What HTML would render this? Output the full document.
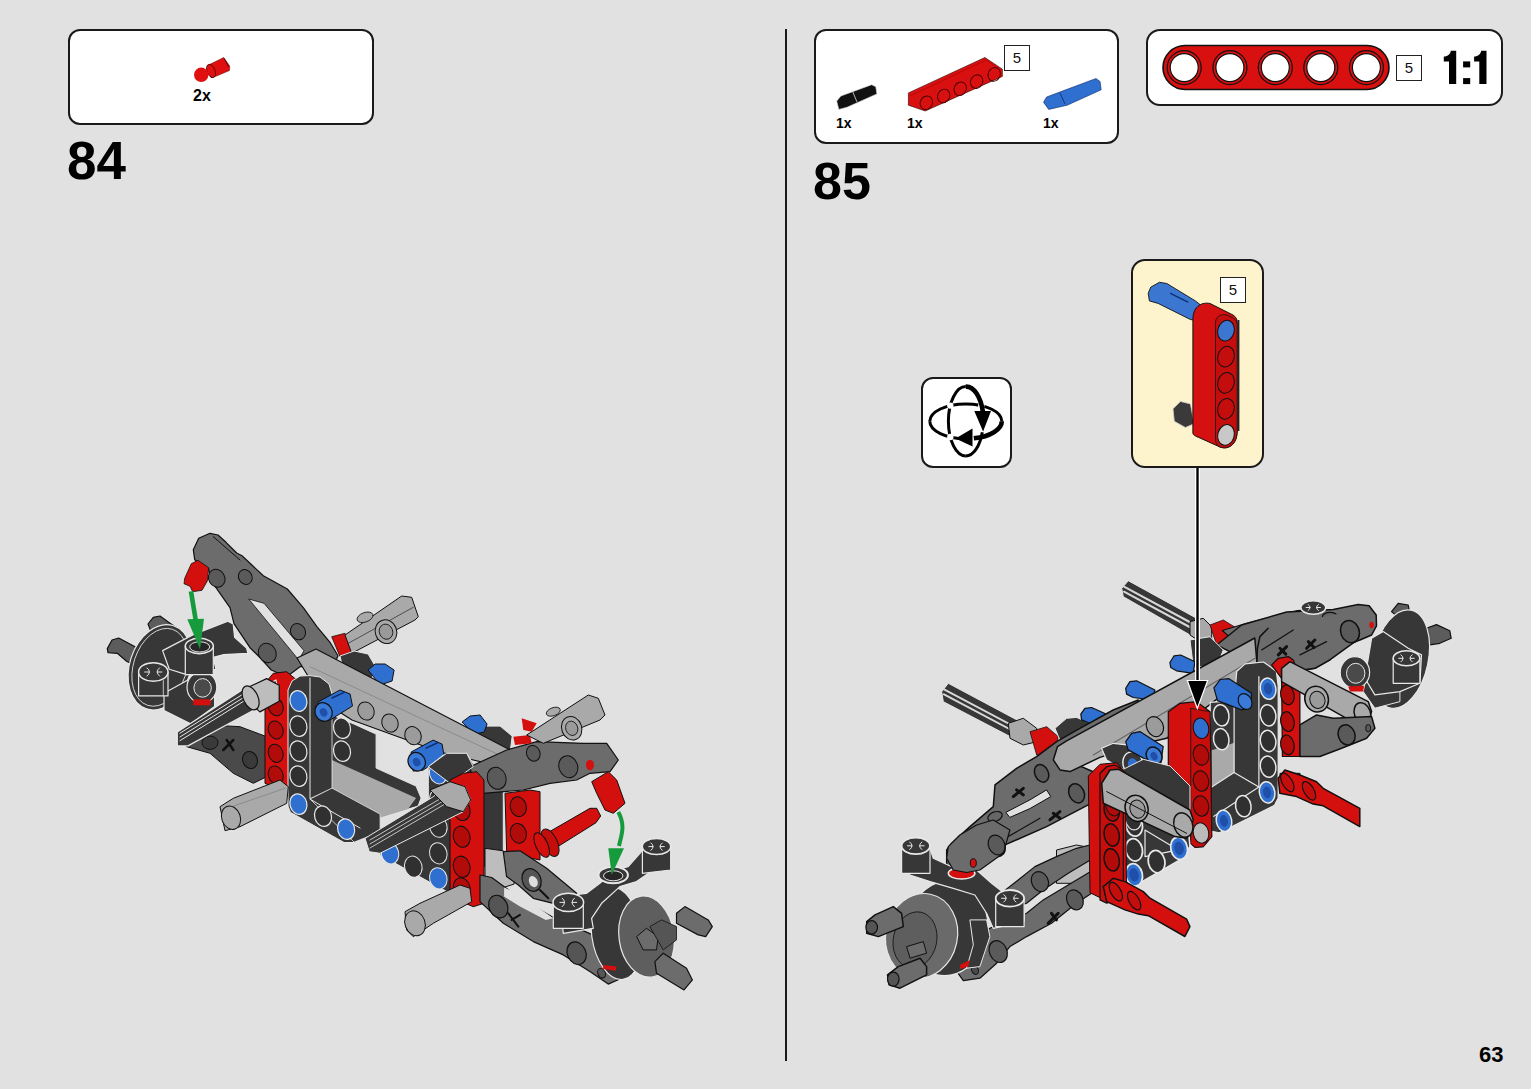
<!DOCTYPE html>
<html><head><meta charset="utf-8">
<style>
html,body{margin:0;padding:0;}
body{width:1531px;height:1089px;background:#e1e1e1;position:relative;overflow:hidden;font-family:"Liberation Sans",sans-serif;}
.box{position:absolute;background:#fff;border:2px solid #1a1a1a;border-radius:12px;box-sizing:border-box;}
.t{position:absolute;font-weight:bold;color:#000;line-height:1;white-space:nowrap;}
.nb{position:absolute;width:26px;height:26px;border:1.5px solid #222;box-sizing:border-box;background:#fff;font-size:15px;text-align:center;line-height:23px;color:#111;}
svg{position:absolute;left:0;top:0;}
</style></head><body>
<div class="box" style="left:68px;top:29px;width:306px;height:96px;"></div>
<div class="box" style="left:814px;top:29px;width:305px;height:115px;"></div>
<div class="box" style="left:1146px;top:29px;width:357px;height:77px;border-radius:14px;"></div>
<div class="box" style="left:921px;top:377px;width:91px;height:91px;border-radius:12px;"></div>
<div class="box" style="left:1131px;top:259px;width:133px;height:209px;border-radius:14px;background:#fdf3cd;"></div>
<div style="position:absolute;left:785px;top:29px;width:2px;height:1032px;background:#1a1a1a;"></div>
<div class="t" style="left:67px;top:134px;font-size:53px;">84</div>
<div class="t" style="left:813px;top:155px;font-size:52px;">85</div>
<div class="t" style="left:1479px;top:1044px;font-size:22px;">63</div>
<div class="t" style="left:193px;top:88px;font-size:16px;">2x</div>
<div class="t" style="left:836px;top:116px;font-size:14px;">1x</div>
<div class="t" style="left:907px;top:116px;font-size:14px;">1x</div>
<div class="t" style="left:1043px;top:116px;font-size:14px;">1x</div>
<div class="nb" style="left:1396px;top:55px;">5</div>
<div class="nb" style="left:1004px;top:45px;">5</div>
<div class="nb" style="left:1220px;top:277px;">5</div>

<svg width="1531" height="1089" viewBox="0 0 1531 1089">
<polygon points="107.3,648.6 112.0,640.0 118.7,638.0 136.0,647.3 138.6,662.6 132.0,664.0 126.6,661.3 117.3,653.3 108.0,652.6" fill="#5c5c5c" stroke="#111" stroke-width="1.2" stroke-linejoin="round"/>
<polygon points="148.0,624.0 153.3,617.3 160.0,616.0 169.3,622.7 174.6,626.6 161.3,632.0 150.6,630.6" fill="#5c5c5c" stroke="#111" stroke-width="1.2" stroke-linejoin="round"/>
<ellipse cx="160.0" cy="667.3" rx="30.4" ry="43.7" fill="#373737" stroke="#e8e8e8" stroke-width="1.2" transform="rotate(18 160.0 667.3)"/>
<ellipse cx="160.0" cy="667.3" rx="26.6" ry="40.0" fill="none" stroke="#e8e8e8" stroke-width="0.8" transform="rotate(18 160.0 667.3)"/>
<polygon points="162.6,650.6 193.3,634.6 227.9,621.3 233.2,624.0 234.6,637.3 246.6,648.0 247.9,653.3 223.9,654.6 213.3,657.3 215.9,669.3 186.6,674.6 169.3,669.3" fill="#373737" stroke="#e8e8e8" stroke-width="1.2" stroke-linejoin="round"/>
<polygon points="164.0,693.3 187.9,679.9 214.6,693.3 214.6,706.6 190.6,723.9 164.0,710.6" fill="#373737" stroke="#e8e8e8" stroke-width="1.2" stroke-linejoin="round"/>
<ellipse cx="201.9" cy="687.3" rx="14.9" ry="15.7" fill="#373737" stroke="#e8e8e8" stroke-width="1.2"/>
<ellipse cx="202.6" cy="687.9" rx="8.7" ry="9.3" fill="#4a4a4a" stroke="#e8e8e8" stroke-width="1"/>
<polygon points="193.3,699.3 210.6,699.3 210.6,705.3 193.3,705.3" fill="#d3100e"/>
<polygon points="185.3,646.0 213.3,646.0 213.3,674.6 185.3,674.6" fill="#373737" stroke="#e8e8e8" stroke-width="1.2" stroke-linejoin="round"/>
<ellipse cx="199.3" cy="646.0" rx="14.0" ry="7.7" fill="#373737" stroke="#e8e8e8" stroke-width="1.5"/>
<ellipse cx="199.7" cy="646.9" rx="10.0" ry="5.1" fill="#262626" stroke="#e8e8e8" stroke-width="1"/>
<polygon points="138.6,672.0 168.0,672.0 168.0,695.9 138.6,695.9" fill="#373737" stroke="#e8e8e8" stroke-width="1.2" stroke-linejoin="round"/>
<ellipse cx="153.3" cy="672.0" rx="14.7" ry="9.3" fill="#373737" stroke="#e8e8e8" stroke-width="1.5"/>
<path d="M146.7,667.6 Q152.1,672.0 146.7,676.3 M159.9,667.6 Q154.5,672.0 159.9,676.3 M144.3,672.0 L149.7,672.0 M156.9,672.0 L162.3,672.0" fill="none" stroke="#e8e8e8" stroke-width="1.0"/>
<polyline points="163.3,680.6 163.3,695.3" fill="none" stroke="#e8e8e8" stroke-width="0.8" stroke-linecap="round" stroke-linejoin="round"/>
<polygon points="180.0,733.3 210.0,725.0 240.0,726.7 266.7,736.7 273.3,753.3 266.7,776.7 253.3,783.3 233.3,773.3 210.0,753.3 186.7,746.7" fill="#4a4a4a" stroke="#111" stroke-width="1" stroke-linejoin="round"/>
<ellipse cx="210.0" cy="742.7" rx="8.0" ry="6.7" fill="#3a3a3a" stroke="#111" stroke-width="1"/>
<ellipse cx="250.0" cy="760.0" rx="7.3" ry="8.7" fill="#3a3a3a" stroke="#111" stroke-width="1" transform="rotate(-20 250.0 760.0)"/>
<polyline points="223.3,750.0 233.3,740.0" fill="none" stroke="#111" stroke-width="2.5" stroke-linecap="round" stroke-linejoin="round"/>
<polyline points="226.7,740.0 233.3,750.0" fill="none" stroke="#111" stroke-width="2.5" stroke-linecap="round" stroke-linejoin="round"/>
<polygon points="193.3,549.7 198.7,538.3 210.0,533.3 218.0,535.0 226.0,542.3 236.7,553.0 242.0,555.7 263.3,575.7 287.3,589.0 303.3,607.7 316.7,626.3 330.0,642.3 338.0,655.7 333.3,666.7 300.0,666.7 286.7,676.7 271.3,670.0 260.7,658.3 250.0,647.7 239.3,631.7 234.0,623.7 230.0,607.7 220.7,594.3 211.3,581.0 208.7,569.0 194.7,559.7" fill="#6c6c6c" stroke="#111" stroke-width="1.2" stroke-linejoin="round"/>
<polygon points="248.7,599.0 264.0,603.3 304.0,650.7 298.7,660.0 293.3,653.3" fill="#e1e1e1" stroke="#111" stroke-width="0.8" stroke-linejoin="round"/>
<ellipse cx="216.7" cy="578.3" rx="8.0" ry="9.2" fill="#5a5a5a" stroke="#111" stroke-width="1" transform="rotate(-30 216.7 578.3)"/>
<ellipse cx="245.3" cy="577.0" rx="6.7" ry="7.7" fill="#5a5a5a" stroke="#111" stroke-width="1" transform="rotate(-30 245.3 577.0)"/>
<ellipse cx="267.3" cy="653.0" rx="8.7" ry="10.0" fill="#5a5a5a" stroke="#111" stroke-width="1" transform="rotate(-30 267.3 653.0)"/>
<ellipse cx="298.0" cy="631.7" rx="7.3" ry="8.4" fill="#5a5a5a" stroke="#111" stroke-width="1" transform="rotate(-30 298.0 631.7)"/>
<polyline points="213.3,536.7 240.0,560.0" fill="none" stroke="#111" stroke-width="1" stroke-linecap="round" stroke-linejoin="round"/>
<polygon points="191.3,563.7 198.0,560.3 208.7,567.7 207.3,581.0 202.0,590.3 192.7,591.7 190.0,586.3 184.0,583.7 184.7,578.3" fill="#d3100e" stroke="#111" stroke-width="0.8" stroke-linejoin="round"/>
<polygon points="188.7,591.7 193.3,591.0 198.3,621.7 193.7,622.3" fill="#159a3c"/>
<polygon points="187.3,619.3 204.0,618.7 200.0,649.3" fill="#159a3c"/>
<polygon points="331.7,636.7 345.0,633.3 351.7,651.7 340.0,656.7" fill="#d3100e" stroke="#111" stroke-width="0.8" stroke-linejoin="round"/>
<polygon points="345.0,635.0 401.7,596.0 411.7,597.3 418.3,616.7 415.0,620.0 351.7,653.3" fill="#a9a9a9" stroke="#111" stroke-width="1" stroke-linejoin="round"/>
<polyline points="348.3,643.3 413.3,607.3" fill="none" stroke="#111" stroke-width="0.6" stroke-linecap="round" stroke-linejoin="round"/>
<ellipse cx="386.0" cy="631.7" rx="10.7" ry="12.0" fill="#a9a9a9" stroke="#111" stroke-width="1" transform="rotate(-20 386.0 631.7)"/>
<ellipse cx="386.0" cy="631.7" rx="6.7" ry="7.7" fill="#9a9a9a" stroke="#111" stroke-width="0.8" transform="rotate(-20 386.0 631.7)"/>
<ellipse cx="365.0" cy="617.3" rx="8.3" ry="4.7" fill="#a9a9a9" stroke="#111" stroke-width="0.8" transform="rotate(-20 365.0 617.3)"/>
<polygon points="340.0,656.0 354.1,651.0 368.1,654.0 375.1,666.0 372.1,678.0 354.1,682.0 344.1,674.0" fill="#373737" stroke="#e8e8e8" stroke-width="1" stroke-linejoin="round"/>
<polygon points="368.1,670.0 375.1,664.0 385.1,664.0 394.1,670.0 392.1,681.0 380.1,685.0" fill="#2f6fd0" stroke="#111" stroke-width="1" stroke-linejoin="round"/>
<polygon points="472.1,734.1 486.1,726.1 500.1,726.1 512.2,736.1 510.2,752.1 490.1,756.1" fill="#373737" stroke="#e8e8e8" stroke-width="1" stroke-linejoin="round"/>
<polygon points="462.1,722.0 470.1,716.0 480.1,715.0 487.1,724.1 484.1,732.1 474.1,734.1" fill="#2f6fd0" stroke="#111" stroke-width="1" stroke-linejoin="round"/>
<polygon points="297.0,658.0 316.0,649.0 516.7,753.3 523.3,763.3 508.0,768.3 440.0,752.0 352.0,720.0 330.0,706.0 308.0,676.0" fill="#a9a9a9" stroke="#111" stroke-width="1.2" stroke-linejoin="round"/>
<polyline points="310.0,666.7 510.0,760.0" fill="none" stroke="#777" stroke-width="0.6" stroke-linecap="round" stroke-linejoin="round"/>
<ellipse cx="366.0" cy="711.0" rx="8.0" ry="9.3" fill="#9b9b9b" stroke="#111" stroke-width="1" transform="rotate(-25 366.0 711.0)"/>
<ellipse cx="390.0" cy="723.0" rx="8.0" ry="9.3" fill="#9b9b9b" stroke="#111" stroke-width="1" transform="rotate(-25 390.0 723.0)"/>
<ellipse cx="413.0" cy="735.7" rx="8.0" ry="9.3" fill="#9b9b9b" stroke="#111" stroke-width="1" transform="rotate(-25 413.0 735.7)"/>
<polygon points="265.0,683.3 273.3,673.3 286.7,671.7 296.7,680.0 296.7,786.7 281.7,790.7 265.0,783.3" fill="#d3100e" stroke="#111" stroke-width="1" stroke-linejoin="round"/>
<ellipse cx="275.7" cy="706.7" rx="7.3" ry="9.3" fill="#b20c0a" stroke="#111" stroke-width="1" transform="rotate(-20 275.7 706.7)"/>
<ellipse cx="275.7" cy="730.0" rx="7.3" ry="9.3" fill="#b20c0a" stroke="#111" stroke-width="1" transform="rotate(-20 275.7 730.0)"/>
<ellipse cx="275.7" cy="753.3" rx="7.3" ry="9.3" fill="#b20c0a" stroke="#111" stroke-width="1" transform="rotate(-20 275.7 753.3)"/>
<ellipse cx="275.7" cy="775.0" rx="7.3" ry="9.3" fill="#b20c0a" stroke="#111" stroke-width="1" transform="rotate(-20 275.7 775.0)"/>
<polygon points="177.3,731.9 245.2,687.9 257.2,682.6 266.6,685.3 275.9,679.9 278.5,693.3 262.6,705.3 187.9,745.9 177.3,745.9" fill="#373737" stroke="#e8e8e8" stroke-width="1.2" stroke-linejoin="round"/>
<polyline points="179.9,733.2 246.6,691.9" fill="none" stroke="#e8e8e8" stroke-width="1" stroke-linecap="round" stroke-linejoin="round"/>
<polyline points="179.9,737.0 246.6,695.7" fill="none" stroke="#e8e8e8" stroke-width="1" stroke-linecap="round" stroke-linejoin="round"/>
<polyline points="179.9,740.7 246.6,699.4" fill="none" stroke="#e8e8e8" stroke-width="1" stroke-linecap="round" stroke-linejoin="round"/>
<polygon points="243.9,689.3 266.6,678.6 279.2,685.3 279.2,701.3 259.9,711.9 245.2,698.6" fill="#bdbdbd" stroke="#111" stroke-width="1.2" stroke-linejoin="round"/>
<ellipse cx="250.6" cy="697.9" rx="7.3" ry="12.7" fill="#bdbdbd" stroke="#111" stroke-width="1.2" transform="rotate(-25 250.6 697.9)"/>
<polygon points="288.0,690.0 292.0,681.0 300.0,676.0 310.0,675.6 320.0,677.0 329.0,684.0 332.0,694.0 332.0,715.0 354.1,724.1 376.1,734.1 376.1,768.1 416.1,786.1 421.1,798.1 418.1,806.1 408.1,809.1 372.1,820.1 364.1,838.1 354.1,842.5 344.1,842.5 290.4,812.3 288.0,806.1" fill="#373737" stroke="#e8e8e8" stroke-width="1" stroke-linejoin="round"/>
<polygon points="332.0,760.1 354.1,770.1 416.1,798.1 408.1,809.1 372.1,820.1 354.1,808.1 310.0,798.1 332.0,788.1" fill="#a9a9a9"/>
<polygon points="310.0,799.1 332.0,788.1 354.1,800.1 380.1,814.1 380.1,832.1 354.1,842.1" fill="#373737" stroke="#e8e8e8" stroke-width="0.8" stroke-linejoin="round"/>
<polyline points="310.0,678.0 310.0,799.1 360.1,828.1" fill="none" stroke="#e8e8e8" stroke-width="1" stroke-linecap="round" stroke-linejoin="round"/>
<polyline points="332.0,715.0 332.0,788.1" fill="none" stroke="#e8e8e8" stroke-width="0.8" stroke-linecap="round" stroke-linejoin="round"/>
<ellipse cx="298.4" cy="701.0" rx="8.4" ry="10.4" fill="#2f6fd0" stroke="#e8e8e8" stroke-width="1.2" transform="rotate(-15 298.4 701.0)"/>
<ellipse cx="298.4" cy="726.1" rx="8.4" ry="10.4" fill="#303030" stroke="#e8e8e8" stroke-width="1.2" transform="rotate(-15 298.4 726.1)"/>
<ellipse cx="298.4" cy="751.1" rx="8.4" ry="10.4" fill="#303030" stroke="#e8e8e8" stroke-width="1.2" transform="rotate(-15 298.4 751.1)"/>
<ellipse cx="298.4" cy="776.1" rx="8.4" ry="10.4" fill="#303030" stroke="#e8e8e8" stroke-width="1.2" transform="rotate(-15 298.4 776.1)"/>
<ellipse cx="298.4" cy="804.1" rx="8.4" ry="10.4" fill="#2f6fd0" stroke="#e8e8e8" stroke-width="1.2" transform="rotate(-15 298.4 804.1)"/>
<ellipse cx="323.0" cy="816.1" rx="8.4" ry="10.4" fill="#303030" stroke="#e8e8e8" stroke-width="1.2" transform="rotate(-15 323.0 816.1)"/>
<ellipse cx="346.1" cy="829.1" rx="8.4" ry="10.4" fill="#2f6fd0" stroke="#e8e8e8" stroke-width="1.2" transform="rotate(-15 346.1 829.1)"/>
<ellipse cx="342.0" cy="728.1" rx="8.4" ry="10.4" fill="#303030" stroke="#e8e8e8" stroke-width="1.2" transform="rotate(-15 342.0 728.1)"/>
<ellipse cx="342.0" cy="751.1" rx="8.4" ry="10.4" fill="#303030" stroke="#e8e8e8" stroke-width="1.2" transform="rotate(-15 342.0 751.1)"/>
<polygon points="220.0,806.7 233.3,798.3 280.0,780.0 288.3,786.7 286.7,803.3 240.0,826.7 225.0,830.7" fill="#a9a9a9" stroke="#111" stroke-width="1" stroke-linejoin="round"/>
<polyline points="231.7,806.7 285.0,788.3" fill="none" stroke="#777" stroke-width="0.6" stroke-linecap="round" stroke-linejoin="round"/>
<ellipse cx="231.0" cy="817.7" rx="9.3" ry="12.0" fill="#a9a9a9" stroke="#111" stroke-width="1" transform="rotate(-20 231.0 817.7)"/>
<polygon points="318.0,702.0 340.0,690.0 350.1,694.0 352.5,706.0 330.0,720.0 320.0,720.0" fill="#2f6fd0" stroke="#111" stroke-width="1" stroke-linejoin="round"/>
<ellipse cx="323.6" cy="712.0" rx="8.4" ry="9.6" fill="#3a7ad8" stroke="#111" stroke-width="1.2" transform="rotate(-30 323.6 712.0)"/>
<ellipse cx="323.6" cy="712.4" rx="3.6" ry="4.4" fill="#1f4fa8" transform="rotate(-30 323.6 712.4)"/>
<polyline points="332.0,698.0 344.1,692.4" fill="none" stroke="#0d2f6e" stroke-width="1.5" stroke-linecap="round" stroke-linejoin="round"/>
<polygon points="411.1,752.1 433.1,740.1 442.1,744.1 444.1,756.1 423.1,770.1 413.1,771.1" fill="#2f6fd0" stroke="#111" stroke-width="1" stroke-linejoin="round"/>
<ellipse cx="416.7" cy="761.7" rx="8.4" ry="9.6" fill="#3a7ad8" stroke="#111" stroke-width="1.2" transform="rotate(-30 416.7 761.7)"/>
<ellipse cx="416.7" cy="762.1" rx="3.6" ry="4.4" fill="#1f4fa8" transform="rotate(-30 416.7 762.1)"/>
<polyline points="426.1,748.1 438.1,742.5" fill="none" stroke="#0d2f6e" stroke-width="1.5" stroke-linecap="round" stroke-linejoin="round"/>
<polygon points="428.3,766.7 443.3,755.0 466.7,753.3 475.0,766.7 485.0,783.3 503.3,790.0 503.3,853.3 450.0,893.3 380.0,855.0 380.0,840.0 428.3,820.0" fill="#373737" stroke="#e8e8e8" stroke-width="1" stroke-linejoin="round"/>
<ellipse cx="438.3" cy="773.3" rx="8.7" ry="10.7" fill="#2f6fd0" stroke="#e8e8e8" stroke-width="1" transform="rotate(-15 438.3 773.3)"/>
<ellipse cx="438.3" cy="800.0" rx="8.7" ry="10.7" fill="#303030" stroke="#e8e8e8" stroke-width="1" transform="rotate(-15 438.3 800.0)"/>
<ellipse cx="438.3" cy="826.7" rx="8.7" ry="10.7" fill="#303030" stroke="#e8e8e8" stroke-width="1" transform="rotate(-15 438.3 826.7)"/>
<ellipse cx="438.3" cy="853.3" rx="8.7" ry="10.7" fill="#303030" stroke="#e8e8e8" stroke-width="1" transform="rotate(-15 438.3 853.3)"/>
<ellipse cx="438.3" cy="878.3" rx="8.7" ry="10.7" fill="#2f6fd0" stroke="#e8e8e8" stroke-width="1" transform="rotate(-15 438.3 878.3)"/>
<ellipse cx="390.0" cy="853.3" rx="8.7" ry="10.7" fill="#2f6fd0" stroke="#e8e8e8" stroke-width="1" transform="rotate(-15 390.0 853.3)"/>
<ellipse cx="413.3" cy="866.7" rx="8.7" ry="10.7" fill="#303030" stroke="#e8e8e8" stroke-width="1" transform="rotate(-15 413.3 866.7)"/>
<polygon points="505.0,793.3 530.0,790.0 540.0,791.7 540.0,860.0 506.7,853.3" fill="#d3100e" stroke="#111" stroke-width="1" stroke-linejoin="round"/>
<ellipse cx="518.3" cy="806.7" rx="8.0" ry="10.0" fill="#b20c0a" stroke="#111" stroke-width="1" transform="rotate(-15 518.3 806.7)"/>
<ellipse cx="518.3" cy="833.3" rx="8.0" ry="10.0" fill="#b20c0a" stroke="#111" stroke-width="1" transform="rotate(-15 518.3 833.3)"/>
<polygon points="470.0,766.7 506.7,750.0 536.7,741.7 583.3,743.3 606.7,743.3 618.3,760.0 610.0,771.7 590.0,773.3 576.7,780.0 550.0,783.3 523.3,790.0 483.3,793.3 473.3,783.3" fill="#6c6c6c" stroke="#111" stroke-width="1.2" stroke-linejoin="round"/>
<ellipse cx="496.7" cy="778.3" rx="9.3" ry="11.2" fill="#5a5a5a" stroke="#111" stroke-width="1" transform="rotate(-20 496.7 778.3)"/>
<ellipse cx="568.3" cy="766.7" rx="9.3" ry="11.2" fill="#5a5a5a" stroke="#111" stroke-width="1" transform="rotate(-20 568.3 766.7)"/>
<ellipse cx="533.3" cy="753.3" rx="6.7" ry="8.0" fill="#5a5a5a" stroke="#111" stroke-width="1" transform="rotate(-20 533.3 753.3)"/>
<ellipse cx="590.0" cy="765.0" rx="4.0" ry="5.3" fill="#d3100e"/>
<polygon points="521.7,718.3 536.7,723.3 531.7,731.7 523.3,730.0" fill="#d3100e"/>
<polygon points="513.3,736.7 530.0,735.0 531.7,743.3 515.0,745.0" fill="#d3100e"/>
<polygon points="526.7,735.0 588.3,695.0 598.3,698.3 605.0,715.0 600.0,720.0 543.3,743.3" fill="#a9a9a9" stroke="#111" stroke-width="1" stroke-linejoin="round"/>
<ellipse cx="571.7" cy="728.3" rx="10.0" ry="12.0" fill="#a9a9a9" stroke="#111" stroke-width="1" transform="rotate(-20 571.7 728.3)"/>
<ellipse cx="571.7" cy="728.3" rx="6.0" ry="7.3" fill="#9a9a9a" stroke="#111" stroke-width="0.8" transform="rotate(-20 571.7 728.3)"/>
<ellipse cx="553.3" cy="711.7" rx="7.3" ry="4.0" fill="#a9a9a9" stroke="#111" stroke-width="0.8" transform="rotate(-20 553.3 711.7)"/>
<polygon points="428.3,766.7 446.7,753.3 466.7,753.3 473.3,766.7 450.0,783.3" fill="#373737" stroke="#e8e8e8" stroke-width="1" stroke-linejoin="round"/>
<polygon points="450.0,780.0 463.3,773.3 476.7,771.7 484.0,780.0 484.0,903.3 473.3,906.7 450.0,896.7" fill="#d3100e" stroke="#111" stroke-width="1" stroke-linejoin="round"/>
<ellipse cx="461.7" cy="810.0" rx="8.3" ry="10.7" fill="#b20c0a" stroke="#111" stroke-width="1" transform="rotate(-15 461.7 810.0)"/>
<ellipse cx="461.7" cy="836.7" rx="8.3" ry="10.7" fill="#b20c0a" stroke="#111" stroke-width="1" transform="rotate(-15 461.7 836.7)"/>
<ellipse cx="461.7" cy="866.7" rx="8.3" ry="10.7" fill="#b20c0a" stroke="#111" stroke-width="1" transform="rotate(-15 461.7 866.7)"/>
<ellipse cx="461.7" cy="888.3" rx="8.3" ry="10.7" fill="#b20c0a" stroke="#111" stroke-width="1" transform="rotate(-15 461.7 888.3)"/>
<polygon points="365.0,838.3 433.3,796.7 450.0,783.3 465.0,786.7 470.7,800.0 463.3,811.7 380.0,853.3 369.3,851.7" fill="#373737" stroke="#e8e8e8" stroke-width="1" stroke-linejoin="round"/>
<polyline points="370.0,840.0 446.7,795.0" fill="none" stroke="#e8e8e8" stroke-width="0.8" stroke-linecap="round" stroke-linejoin="round"/>
<polyline points="370.0,844.0 446.7,799.0" fill="none" stroke="#e8e8e8" stroke-width="0.8" stroke-linecap="round" stroke-linejoin="round"/>
<polyline points="370.0,848.0 446.7,803.0" fill="none" stroke="#e8e8e8" stroke-width="0.8" stroke-linecap="round" stroke-linejoin="round"/>
<polygon points="430.0,790.0 450.0,781.7 465.0,786.7 470.7,800.0 463.3,811.7 446.7,806.7" fill="#a9a9a9" stroke="#111" stroke-width="1" stroke-linejoin="round"/>
<polygon points="405.0,911.7 420.0,903.3 460.0,885.0 470.0,888.3 471.7,901.7 433.3,923.3 413.3,936.7 406.7,930.0" fill="#a9a9a9" stroke="#111" stroke-width="1" stroke-linejoin="round"/>
<ellipse cx="415.0" cy="923.3" rx="10.0" ry="12.7" fill="#a9a9a9" stroke="#111" stroke-width="1" transform="rotate(-20 415.0 923.3)"/>
<polygon points="546.7,833.3 590.0,808.3 596.7,808.3 600.7,816.0 596.0,822.7 556.7,847.3 546.7,847.3" fill="#d3100e" stroke="#111" stroke-width="1" stroke-linejoin="round"/>
<ellipse cx="550.0" cy="842.7" rx="7.3" ry="14.7" fill="#c40e0c" stroke="#111" stroke-width="1" transform="rotate(-25 550.0 842.7)"/>
<ellipse cx="541.7" cy="845.0" rx="6.0" ry="13.3" fill="#d3100e" stroke="#111" stroke-width="1" transform="rotate(-25 541.7 845.0)"/>
<polygon points="485.0,848.3 503.3,850.8 515.8,863.3 514.1,884.1 503.3,887.5 485.0,882.5" fill="#bdbdbd" stroke="#111" stroke-width="1" stroke-linejoin="round"/>
<polygon points="503.3,851.6 520.0,850.8 546.6,868.3 576.6,893.3 569.9,899.9 553.3,903.3 533.3,898.3 518.3,885.0 506.6,876.6" fill="#6c6c6c" stroke="#111" stroke-width="1.2" stroke-linejoin="round"/>
<ellipse cx="531.6" cy="880.0" rx="9.2" ry="11.7" fill="#555" stroke="#111" stroke-width="1.2" transform="rotate(-25 531.6 880.0)"/>
<ellipse cx="533.3" cy="881.6" rx="4.2" ry="5.8" fill="#ddd" transform="rotate(-25 533.3 881.6)"/>
<polygon points="480.0,875.0 491.7,877.5 520.0,898.3 553.3,917.4 596.6,936.6 618.2,961.6 621.6,978.2 608.2,984.1 589.9,971.6 563.3,954.9 533.3,941.6 503.3,923.3 480.0,901.6" fill="#6c6c6c" stroke="#111" stroke-width="1.2" stroke-linejoin="round"/>
<polygon points="504.1,887.5 518.3,893.3 553.3,918.3 545.8,919.9 520.0,906.6 504.1,896.6" fill="#e1e1e1"/>
<ellipse cx="498.3" cy="906.6" rx="9.2" ry="11.7" fill="#555" stroke="#111" stroke-width="1.2" transform="rotate(-25 498.3 906.6)"/>
<ellipse cx="576.6" cy="953.2" rx="9.2" ry="11.7" fill="#555" stroke="#111" stroke-width="1.2" transform="rotate(-25 576.6 953.2)"/>
<ellipse cx="601.6" cy="973.2" rx="3.7" ry="5.0" fill="#555" stroke="#111" stroke-width="1" transform="rotate(-25 601.6 973.2)"/>
<polyline points="508.3,913.3 518.3,926.6" fill="none" stroke="#111" stroke-width="2" stroke-linecap="round" stroke-linejoin="round"/>
<polyline points="511.6,919.9 520.0,914.9" fill="none" stroke="#111" stroke-width="2" stroke-linecap="round" stroke-linejoin="round"/>
<polyline points="540.0,890.0 548.3,898.3" fill="none" stroke="#111" stroke-width="2" stroke-linecap="round" stroke-linejoin="round"/>
<ellipse cx="616.6" cy="933.3" rx="25.0" ry="46.6" fill="#373737" stroke="#e8e8e8" stroke-width="1.2" transform="rotate(-8 616.6 933.3)"/>
<ellipse cx="646.5" cy="936.6" rx="27.5" ry="40.8" fill="#5e5e5e" stroke="#e8e8e8" stroke-width="1.2" transform="rotate(-8 646.5 936.6)"/>
<polygon points="676.5,913.3 684.9,906.6 708.2,919.9 712.3,926.6 705.7,936.6 698.2,934.9 676.5,923.3" fill="#6c6c6c" stroke="#111" stroke-width="1.2" stroke-linejoin="round"/>
<polygon points="654.9,961.6 663.2,953.2 686.5,968.2 692.4,979.9 684.0,989.9 656.5,973.2" fill="#6c6c6c" stroke="#111" stroke-width="1.2" stroke-linejoin="round"/>
<polygon points="636.6,936.6 646.5,928.3 658.2,936.6 656.5,949.9 643.2,949.9" fill="#6c6c6c" stroke="#111" stroke-width="1" stroke-linejoin="round"/>
<polygon points="649.9,926.6 661.5,919.9 676.5,926.6 676.5,939.9 663.2,949.9" fill="#555" stroke="#111" stroke-width="0.8" stroke-linejoin="round"/>
<polygon points="603.2,964.9 616.6,966.6 615.7,970.7 603.2,969.1" fill="#d3100e"/>
<polygon points="559.9,898.3 573.3,895.0 586.6,893.3 599.9,883.3 614.9,870.0 628.2,866.6 639.9,853.3 646.5,845.0 666.5,845.0 670.7,853.3 653.2,870.0 636.6,881.6 619.9,886.6 601.6,903.3 591.6,918.3 593.3,928.3 563.3,933.3" fill="#373737" stroke="#e8e8e8" stroke-width="1.2" stroke-linejoin="round"/>
<polygon points="642.4,846.6 670.7,846.6 670.7,870.0 642.4,873.3" fill="#373737" stroke="#e8e8e8" stroke-width="1.2" stroke-linejoin="round"/>
<ellipse cx="656.5" cy="846.6" rx="14.2" ry="8.0" fill="#373737" stroke="#e8e8e8" stroke-width="1.5"/>
<polygon points="553.3,903.3 583.3,903.3 583.3,928.3 553.3,928.3" fill="#373737" stroke="#e8e8e8" stroke-width="1.2" stroke-linejoin="round"/>
<ellipse cx="568.3" cy="902.4" rx="15.3" ry="9.2" fill="#373737" stroke="#e8e8e8" stroke-width="1.5"/>
<ellipse cx="613.2" cy="875.0" rx="14.7" ry="8.3" fill="#373737" stroke="#e8e8e8" stroke-width="2"/>
<ellipse cx="613.2" cy="875.8" rx="9.7" ry="5.0" fill="#262626" stroke="#e8e8e8" stroke-width="1"/>
<path d="M561.9,897.9 Q567.1,902.4 561.9,906.9 M574.7,897.9 Q569.4,902.4 574.7,906.9 M559.5,902.4 L564.8,902.4 M571.8,902.4 L577.0,902.4" fill="none" stroke="#e8e8e8" stroke-width="1.0"/>
<path d="M650.6,842.7 Q655.5,846.6 650.6,850.6 M662.5,842.7 Q657.6,846.6 662.5,850.6 M648.4,846.6 L653.3,846.6 M659.8,846.6 L664.7,846.6" fill="none" stroke="#e8e8e8" stroke-width="1.0"/>
<polygon points="591.7,781.7 608.3,771.7 616.7,780.0 625.0,803.3 613.3,813.3 605.0,810.0 596.7,793.3" fill="#d3100e" stroke="#111" stroke-width="1" stroke-linejoin="round"/>
<path d="M618.3,812 C626,826 621,836 619,846" fill="none" stroke="#159a3c" stroke-width="4"/>
<polygon points="608.3,848.3 624.0,848.3 611.7,875.0" fill="#159a3c"/>
<polygon points="1391.5,611.6 1398.2,603.3 1408.2,605.0 1410.2,615.0 1399.9,618.6" fill="#5c5c5c" stroke="#111" stroke-width="1.2" stroke-linejoin="round"/>
<polygon points="1421.5,630.0 1436.5,624.6 1449.8,630.8 1451.2,638.3 1439.8,643.3 1423.2,645.8" fill="#5c5c5c" stroke="#111" stroke-width="1.2" stroke-linejoin="round"/>
<ellipse cx="1400.7" cy="659.1" rx="27.5" ry="50.0" fill="#373737" stroke="#e8e8e8" stroke-width="1.2" transform="rotate(12 1400.7 659.1)"/>
<polygon points="1366.6,674.9 1399.9,678.3 1399.9,701.6 1374.9,708.2 1363.2,691.6" fill="#373737" stroke="#e8e8e8" stroke-width="1" stroke-linejoin="round"/>
<polygon points="1371.6,638.3 1383.2,631.6 1408.2,648.3 1421.5,654.9 1419.9,683.3 1399.9,691.6 1374.9,694.9 1364.9,678.3" fill="#373737" stroke="#e8e8e8" stroke-width="1.2" stroke-linejoin="round"/>
<ellipse cx="1354.9" cy="672.4" rx="14.7" ry="15.8" fill="#373737" stroke="#e8e8e8" stroke-width="1.2"/>
<ellipse cx="1355.7" cy="673.3" rx="9.2" ry="10.0" fill="#4a4a4a" stroke="#e8e8e8" stroke-width="1"/>
<polygon points="1348.2,686.6 1364.1,685.8 1363.2,691.6 1349.9,691.6" fill="#d3100e"/>
<polygon points="1393.2,658.3 1419.9,658.3 1419.9,683.3 1393.2,683.3" fill="#373737" stroke="#e8e8e8" stroke-width="1.2" stroke-linejoin="round"/>
<ellipse cx="1406.5" cy="658.3" rx="13.3" ry="7.5" fill="#373737" stroke="#e8e8e8" stroke-width="1.5"/>
<path d="M1400.6,654.5 Q1405.4,658.3 1400.6,662.1 M1412.5,654.5 Q1407.6,658.3 1412.5,662.1 M1398.4,658.3 L1403.3,658.3 M1409.8,658.3 L1414.6,658.3" fill="none" stroke="#e8e8e8" stroke-width="1.0"/>
<polygon points="1121.7,588.3 1128.3,580.7 1196.7,618.3 1203.3,626.7 1200.0,638.3 1190.0,635.0 1123.3,596.7" fill="#373737" stroke="#e8e8e8" stroke-width="1" stroke-linejoin="round"/>
<polyline points="1124.0,586.7 1193.3,624.0" fill="none" stroke="#d8d8d8" stroke-width="2.0" stroke-linecap="round" stroke-linejoin="round"/>
<polyline points="1124.0,591.7 1193.3,629.0" fill="none" stroke="#d8d8d8" stroke-width="2.0" stroke-linecap="round" stroke-linejoin="round"/>
<polygon points="1190.0,621.7 1203.3,618.3 1211.7,626.7 1211.7,640.0 1200.0,641.7 1190.0,635.0" fill="#a9a9a9" stroke="#111" stroke-width="1" stroke-linejoin="round"/>
<polygon points="1210.0,625.0 1223.3,620.0 1236.7,628.3 1233.3,643.3 1216.7,645.0" fill="#d3100e" stroke="#111" stroke-width="0.8" stroke-linejoin="round"/>
<polygon points="941.7,691.7 948.3,683.3 1023.3,723.3 1031.7,733.3 1030.0,745.0 1016.7,740.0 943.3,701.7" fill="#373737" stroke="#e8e8e8" stroke-width="1" stroke-linejoin="round"/>
<polyline points="944.0,689.3 1018.3,728.7" fill="none" stroke="#d8d8d8" stroke-width="2.0" stroke-linecap="round" stroke-linejoin="round"/>
<polyline points="944.0,694.3 1018.3,733.7" fill="none" stroke="#d8d8d8" stroke-width="2.0" stroke-linecap="round" stroke-linejoin="round"/>
<polygon points="1008.3,723.3 1023.3,718.3 1036.7,728.3 1036.7,741.7 1023.3,745.0 1010.0,738.3" fill="#a9a9a9" stroke="#111" stroke-width="1" stroke-linejoin="round"/>
<polygon points="1030.0,731.7 1046.7,726.7 1058.3,736.7 1055.0,753.3 1036.7,755.0" fill="#d3100e" stroke="#111" stroke-width="0.8" stroke-linejoin="round"/>
<polygon points="1222.3,630.5 1245.8,623.5 1297.5,610.6 1311.6,609.4 1302.2,637.6 1264.6,659.9 1241.1,647.0" fill="#6c6c6c" stroke="#111" stroke-width="1.2" stroke-linejoin="round"/>
<polygon points="1216.7,645.0 1241.6,625.0 1286.6,612.0 1333.2,609.6 1358.2,604.6 1369.1,605.8 1376.2,615.0 1376.5,625.8 1371.6,635.0 1359.9,640.0 1333.2,650.0 1329.9,659.9 1314.9,668.3 1293.3,671.6 1270.0,664.9 1255.0,661.6 1233.3,653.3" fill="#6c6c6c" stroke="#111" stroke-width="1.5" stroke-linejoin="round"/>
<ellipse cx="1349.9" cy="631.6" rx="9.2" ry="11.3" fill="#5a5a5a" stroke="#111" stroke-width="1.5" transform="rotate(-20 1349.9 631.6)"/>
<ellipse cx="1329.9" cy="616.6" rx="7.5" ry="4.2" fill="#666" stroke="#111" stroke-width="1.2"/>
<ellipse cx="1313.3" cy="607.5" rx="12.5" ry="6.7" fill="#373737" stroke="#e8e8e8" stroke-width="1.5"/>
<path d="M1307.8,604.3 Q1312.3,607.5 1307.8,610.7 M1318.8,604.3 Q1314.3,607.5 1318.8,610.7 M1305.8,607.5 L1310.3,607.5 M1316.3,607.5 L1320.8,607.5" fill="none" stroke="#e8e8e8" stroke-width="1.0"/>
<ellipse cx="1371.6" cy="625.0" rx="2.3" ry="3.3" fill="#d3100e"/>
<polyline points="1261.6,650.0 1293.3,630.0" fill="none" stroke="#111" stroke-width="1.2" stroke-linecap="round" stroke-linejoin="round"/>
<polyline points="1299.9,654.9 1326.6,641.6" fill="none" stroke="#111" stroke-width="1.2" stroke-linecap="round" stroke-linejoin="round"/>
<polygon points="1190.0,640.0 1210.0,636.7 1223.3,650.0 1216.7,666.7 1193.3,666.7" fill="#373737" stroke="#e8e8e8" stroke-width="1" stroke-linejoin="round"/>
<polygon points="1055.0,728.3 1066.6,718.3 1076.6,717.4 1089.9,723.3 1086.6,738.3 1063.3,748.3" fill="#373737" stroke="#e8e8e8" stroke-width="1" stroke-linejoin="round"/>
<polygon points="1080.8,714.1 1084.9,708.3 1091.6,707.5 1109.9,715.8 1108.3,725.8 1089.9,723.3 1081.6,719.9" fill="#2f6fd0" stroke="#111" stroke-width="1.2" stroke-linejoin="round"/>
<polygon points="1125.7,688.3 1129.9,681.6 1136.6,680.8 1154.9,690.0 1152.4,700.0 1133.2,697.5 1126.6,694.1" fill="#2f6fd0" stroke="#111" stroke-width="1.2" stroke-linejoin="round"/>
<polygon points="1169.9,662.5 1174.1,655.8 1180.7,655.0 1194.9,661.7 1193.2,673.3 1176.5,670.8 1170.7,667.5" fill="#2f6fd0" stroke="#111" stroke-width="1.2" stroke-linejoin="round"/>
<polygon points="946.7,871.0 946.7,849.9 951.7,843.2 970.0,826.6 993.3,806.6 995.0,784.9 1016.6,768.3 1036.6,756.6 1056.6,741.6 1079.9,728.3 1113.2,710.0 1138.2,700.0 1143.2,720.0 1104.9,745.0 1069.9,761.6 1096.6,773.3 1098.2,799.9 1088.2,804.9 1046.6,826.6 1005.0,844.9 980.0,856.6 963.3,871.0" fill="#6c6c6c" stroke="#111" stroke-width="1.5" stroke-linejoin="round"/>
<polygon points="1005.8,812.4 1029.9,799.9 1046.6,789.9 1050.8,796.6 1029.9,808.6 1009.9,817.4" fill="#e1e1e1" stroke="#111" stroke-width="1" stroke-linejoin="round"/>
<ellipse cx="996.6" cy="846.6" rx="8.3" ry="10.3" fill="#5a5a5a" stroke="#111" stroke-width="1.5" transform="rotate(-25 996.6 846.6)"/>
<ellipse cx="1076.6" cy="793.3" rx="7.5" ry="10.0" fill="#5a5a5a" stroke="#111" stroke-width="1.5" transform="rotate(-25 1076.6 793.3)"/>
<ellipse cx="1041.6" cy="773.3" rx="6.7" ry="9.2" fill="#5a5a5a" stroke="#111" stroke-width="1.5" transform="rotate(-25 1041.6 773.3)"/>
<ellipse cx="995.0" cy="816.6" rx="7.5" ry="4.7" fill="#666" stroke="#111" stroke-width="1.2" transform="rotate(-20 995.0 816.6)"/>
<polyline points="1013.3,796.6 1023.3,788.3" fill="none" stroke="#111" stroke-width="3" stroke-linecap="round" stroke-linejoin="round"/>
<polyline points="1016.6,789.9 1023.3,794.9" fill="none" stroke="#111" stroke-width="3" stroke-linecap="round" stroke-linejoin="round"/>
<polyline points="1049.9,819.9 1059.9,811.6" fill="none" stroke="#111" stroke-width="3" stroke-linecap="round" stroke-linejoin="round"/>
<polyline points="1053.3,813.3 1059.9,818.2" fill="none" stroke="#111" stroke-width="3" stroke-linecap="round" stroke-linejoin="round"/>
<polyline points="1008.3,836.6 1039.9,818.2" fill="none" stroke="#111" stroke-width="1.2" stroke-linecap="round" stroke-linejoin="round"/>
<polygon points="1053.3,759.9 1057.5,746.6 1066.6,740.8 1254.8,638.0 1257.3,667.5 1166.6,738.3 1144.9,743.3 1099.9,757.4 1070.0,771.6 1060.0,769.9" fill="#a9a9a9" stroke="#111" stroke-width="1.5" stroke-linejoin="round"/>
<polyline points="1093.3,754.9 1255.0,658.3" fill="none" stroke="#666" stroke-width="1.2" stroke-linecap="round" stroke-linejoin="round"/>
<ellipse cx="1154.9" cy="726.6" rx="8.3" ry="10.3" fill="#9b9b9b" stroke="#111" stroke-width="1.2" transform="rotate(-25 1154.9 726.6)"/>
<polygon points="1101.6,748.3 1113.3,743.3 1126.6,744.9 1143.2,759.9 1141.6,773.2 1126.6,771.6 1106.6,759.9" fill="#373737" stroke="#e8e8e8" stroke-width="1.2" stroke-linejoin="round"/>
<ellipse cx="1133.2" cy="764.1" rx="10.0" ry="12.5" fill="#373737" stroke="#e8e8e8" stroke-width="1.5" transform="rotate(-20 1133.2 764.1)"/>
<ellipse cx="1133.2" cy="764.9" rx="5.0" ry="6.7" fill="#2f6fd0" transform="rotate(-20 1133.2 764.9)"/>
<polygon points="1125.7,741.6 1131.6,733.3 1139.9,731.6 1163.2,746.6 1160.7,763.3 1146.6,759.9 1128.2,749.9" fill="#2f6fd0" stroke="#111" stroke-width="1.2" stroke-linejoin="round"/>
<ellipse cx="1154.1" cy="755.8" rx="7.5" ry="9.2" fill="#3a7ad8" stroke="#111" stroke-width="1.5" transform="rotate(-30 1154.1 755.8)"/>
<ellipse cx="1154.1" cy="756.1" rx="3.3" ry="4.3" fill="#1f4fa8" transform="rotate(-30 1154.1 756.1)"/>
<polygon points="1256.6,673.3 1257.4,648.3 1259.9,636.6 1268.2,628.3 1299.9,621.6 1341.5,613.3 1355.0,610.0 1355.0,641.6 1329.8,659.9 1314.9,668.3 1293.2,671.6 1269.9,670.8" fill="#6c6c6c"/>
<polyline points="1355.0,641.6 1329.8,659.9 1314.9,668.3 1293.2,671.6 1269.9,670.8 1256.6,673.3 1257.4,648.3 1259.9,636.6 1268.2,628.3" fill="none" stroke="#111" stroke-width="1.5" stroke-linecap="round" stroke-linejoin="round"/>
<ellipse cx="1349.9" cy="631.6" rx="9.2" ry="11.3" fill="#5a5a5a" stroke="#111" stroke-width="1.5" transform="rotate(-20 1349.9 631.6)"/>
<polyline points="1261.6,650.0 1293.3,630.0" fill="none" stroke="#111" stroke-width="1.2" stroke-linecap="round" stroke-linejoin="round"/>
<polyline points="1299.9,654.9 1326.6,641.6" fill="none" stroke="#111" stroke-width="1.2" stroke-linecap="round" stroke-linejoin="round"/>
<polyline points="1278.3,654.9 1286.6,646.6" fill="none" stroke="#111" stroke-width="3" stroke-linecap="round" stroke-linejoin="round"/>
<polyline points="1279.9,648.3 1285.8,654.1" fill="none" stroke="#111" stroke-width="3" stroke-linecap="round" stroke-linejoin="round"/>
<polyline points="1306.6,648.3 1314.9,640.0" fill="none" stroke="#111" stroke-width="3" stroke-linecap="round" stroke-linejoin="round"/>
<polyline points="1308.3,641.6 1314.1,647.5" fill="none" stroke="#111" stroke-width="3" stroke-linecap="round" stroke-linejoin="round"/>
<polygon points="1056.5,850.0 1076.5,845.0 1093.2,848.3 1093.2,875.0 1076.5,883.3 1056.5,883.3" fill="#bdbdbd" stroke="#111" stroke-width="1" stroke-linejoin="round"/>
<polygon points="1003.2,891.6 1018.2,880.0 1034.9,866.6 1056.5,856.6 1076.5,848.3 1089.8,845.0 1093.2,858.3 1068.2,873.3 1043.2,890.0 1026.6,903.3 1016.6,906.6" fill="#6c6c6c" stroke="#111" stroke-width="1.2" stroke-linejoin="round"/>
<ellipse cx="1039.9" cy="881.6" rx="8.3" ry="10.3" fill="#5a5a5a" stroke="#111" stroke-width="1.2" transform="rotate(-25 1039.9 881.6)"/>
<polygon points="953.3,966.6 959.9,953.2 976.6,936.6 989.9,928.3 1009.9,919.9 1026.6,913.3 1043.2,899.9 1068.2,885.0 1093.2,870.0 1096.5,890.0 1076.5,903.3 1051.5,923.3 1026.6,936.6 1009.9,946.6 996.6,963.2 979.9,978.2 963.3,980.7" fill="#6c6c6c" stroke="#111" stroke-width="1.2" stroke-linejoin="round"/>
<ellipse cx="998.2" cy="951.6" rx="8.7" ry="11.3" fill="#5a5a5a" stroke="#111" stroke-width="1.2" transform="rotate(-25 998.2 951.6)"/>
<ellipse cx="1074.9" cy="899.9" rx="8.0" ry="10.3" fill="#5a5a5a" stroke="#111" stroke-width="1.2" transform="rotate(-25 1074.9 899.9)"/>
<ellipse cx="974.9" cy="969.9" rx="3.3" ry="4.7" fill="#4a4a4a" stroke="#111" stroke-width="1" transform="rotate(-25 974.9 969.9)"/>
<polyline points="1048.2,923.3 1058.2,913.3" fill="none" stroke="#111" stroke-width="3" stroke-linecap="round" stroke-linejoin="round"/>
<polyline points="1051.5,913.3 1056.5,919.9" fill="none" stroke="#111" stroke-width="3" stroke-linecap="round" stroke-linejoin="round"/>
<ellipse cx="946.6" cy="928.3" rx="40.8" ry="47.5" fill="#373737" stroke="#e8e8e8" stroke-width="1.2" transform="rotate(12 946.6 928.3)"/>
<ellipse cx="921.6" cy="935.8" rx="35.8" ry="42.5" fill="#6a6a6a" stroke="#e8e8e8" stroke-width="1.2" transform="rotate(12 921.6 935.8)"/>
<ellipse cx="915.0" cy="939.9" rx="21.7" ry="28.3" fill="#5e5e5e" stroke="#111" stroke-width="0.8" transform="rotate(12 915.0 939.9)"/>
<polygon points="866.7,921.6 875.0,914.9 893.3,906.6 901.6,913.3 903.3,926.6 878.3,936.6 866.7,933.3" fill="#6c6c6c" stroke="#111" stroke-width="1.5" stroke-linejoin="round"/>
<ellipse cx="871.7" cy="927.4" rx="5.8" ry="6.7" fill="#555" stroke="#111" stroke-width="1.2"/>
<polygon points="887.5,974.9 898.3,966.6 920.0,958.2 926.6,966.6 926.6,974.9 900.0,988.2 889.1,984.9" fill="#6c6c6c" stroke="#111" stroke-width="1.5" stroke-linejoin="round"/>
<ellipse cx="893.3" cy="979.1" rx="5.8" ry="7.0" fill="#555" stroke="#111" stroke-width="1.2"/>
<polygon points="906.6,946.6 923.3,941.6 926.6,953.2 910.0,958.2" fill="#6c6c6c" stroke="#111" stroke-width="1" stroke-linejoin="round"/>
<polygon points="901.6,861.6 910.0,875.0 930.0,881.6 953.3,888.3 974.9,895.0 986.6,913.3 993.2,928.3 1024.1,921.6 1024.9,906.6 1009.9,897.4 991.6,883.3 976.6,870.0 953.3,867.5 933.3,858.3 930.0,848.3 901.6,848.3" fill="#373737" stroke="#e8e8e8" stroke-width="1.2" stroke-linejoin="round"/>
<polygon points="969.9,919.9 986.6,919.9 989.9,936.6 979.9,966.6 966.6,968.2 973.3,944.9" fill="#373737" stroke="#e8e8e8" stroke-width="1.0" stroke-linejoin="round"/>
<polygon points="901.6,845.8 930.0,845.8 930.0,873.3 901.6,873.3" fill="#373737" stroke="#e8e8e8" stroke-width="1.2" stroke-linejoin="round"/>
<ellipse cx="915.8" cy="845.8" rx="14.2" ry="8.3" fill="#373737" stroke="#e8e8e8" stroke-width="1.8"/>
<path d="M909.4,841.8 Q914.6,845.8 909.4,849.8 M922.2,841.8 Q917.0,845.8 922.2,849.8 M907.1,845.8 L912.3,845.8 M919.3,845.8 L924.5,845.8" fill="none" stroke="#e8e8e8" stroke-width="1.0"/>
<polygon points="995.7,898.3 1024.1,898.3 1024.1,926.6 995.7,926.6" fill="#373737" stroke="#e8e8e8" stroke-width="1.2" stroke-linejoin="round"/>
<ellipse cx="1009.9" cy="898.3" rx="14.2" ry="8.3" fill="#373737" stroke="#e8e8e8" stroke-width="1.8"/>
<path d="M1003.5,894.3 Q1008.7,898.3 1003.5,902.3 M1016.3,894.3 Q1011.1,898.3 1016.3,902.3 M1001.2,898.3 L1006.4,898.3 M1013.4,898.3 L1018.6,898.3" fill="none" stroke="#e8e8e8" stroke-width="1.0"/>
<ellipse cx="961.6" cy="873.3" rx="13.3" ry="5.8" fill="#d3100e" stroke="#e8e8e8" stroke-width="1.5"/>
<polygon points="959.9,964.9 969.9,959.9 968.3,966.6 959.9,969.1" fill="#d3100e"/>
<polygon points="946.6,858.3 948.3,846.6 959.9,835.0 976.6,825.0 993.2,820.0 1009.9,830.0 1003.2,853.3 979.9,870.0 966.6,872.5 953.3,870.0" fill="#6c6c6c" stroke="#111" stroke-width="1.2" stroke-linejoin="round"/>
<ellipse cx="996.6" cy="845.0" rx="8.0" ry="10.3" fill="#5a5a5a" stroke="#111" stroke-width="1.2" transform="rotate(-25 996.6 845.0)"/>
<ellipse cx="973.3" cy="863.0" rx="3.0" ry="4.3" fill="#d3100e" stroke="#111" stroke-width="1"/>
<polygon points="1210.2,702.4 1234.1,700.6 1236.8,671.2 1245.1,663.9 1263.5,662.0 1276.3,671.2 1278.2,685.9 1278.2,797.9 1274.5,805.3 1219.4,832.8 1210.2,831.0" fill="#373737" stroke="#e8e8e8" stroke-width="1.2" stroke-linejoin="round"/>
<polygon points="1211.7,750.2 1234.1,742.8 1234.1,772.6 1211.7,786.9" fill="#a9a9a9"/>
<polyline points="1234.1,700.6 1234.1,772.6 1258.9,786.9" fill="none" stroke="#e8e8e8" stroke-width="1.2" stroke-linecap="round" stroke-linejoin="round"/>
<polyline points="1211.7,786.9 1234.1,772.6" fill="none" stroke="#e8e8e8" stroke-width="1.2" stroke-linecap="round" stroke-linejoin="round"/>
<polyline points="1258.9,676.7 1258.9,786.9 1213.9,816.3" fill="none" stroke="#e8e8e8" stroke-width="1.2" stroke-linecap="round" stroke-linejoin="round"/>
<ellipse cx="1268.1" cy="688.7" rx="7.7" ry="10.7" fill="#2f6fd0" stroke="#e8e8e8" stroke-width="1.5" transform="rotate(-10 1268.1 688.7)"/>
<ellipse cx="1268.1" cy="688.7" rx="4.0" ry="5.9" fill="#1f4fa8" transform="rotate(-10 1268.1 688.7)"/>
<ellipse cx="1268.1" cy="715.3" rx="7.7" ry="10.7" fill="#303030" stroke="#e8e8e8" stroke-width="1.5" transform="rotate(-10 1268.1 715.3)"/>
<ellipse cx="1268.1" cy="741.0" rx="7.7" ry="10.7" fill="#303030" stroke="#e8e8e8" stroke-width="1.5" transform="rotate(-10 1268.1 741.0)"/>
<ellipse cx="1268.1" cy="766.7" rx="7.7" ry="10.7" fill="#303030" stroke="#e8e8e8" stroke-width="1.5" transform="rotate(-10 1268.1 766.7)"/>
<ellipse cx="1267.1" cy="792.4" rx="7.7" ry="10.7" fill="#2f6fd0" stroke="#e8e8e8" stroke-width="1.5" transform="rotate(-10 1267.1 792.4)"/>
<ellipse cx="1267.1" cy="792.4" rx="4.0" ry="5.9" fill="#1f4fa8" transform="rotate(-10 1267.1 792.4)"/>
<ellipse cx="1243.3" cy="806.2" rx="7.7" ry="10.7" fill="#303030" stroke="#e8e8e8" stroke-width="1.5" transform="rotate(-10 1243.3 806.2)"/>
<ellipse cx="1224.0" cy="820.9" rx="7.7" ry="10.7" fill="#2f6fd0" stroke="#e8e8e8" stroke-width="1.5" transform="rotate(-10 1224.0 820.9)"/>
<ellipse cx="1224.0" cy="820.9" rx="4.0" ry="5.9" fill="#1f4fa8" transform="rotate(-10 1224.0 820.9)"/>
<ellipse cx="1221.2" cy="715.3" rx="7.7" ry="10.7" fill="#303030" stroke="#e8e8e8" stroke-width="1.5" transform="rotate(-10 1221.2 715.3)"/>
<ellipse cx="1221.2" cy="739.2" rx="7.7" ry="10.7" fill="#303030" stroke="#e8e8e8" stroke-width="1.5" transform="rotate(-10 1221.2 739.2)"/>
<polygon points="1213.9,687.8 1220.3,679.5 1228.6,678.6 1251.5,693.3 1250.6,708.0 1241.4,709.8 1217.5,700.6" fill="#2f6fd0" stroke="#111" stroke-width="1.2" stroke-linejoin="round"/>
<ellipse cx="1245.1" cy="701.5" rx="6.4" ry="8.3" fill="#3a7ad8" stroke="#111" stroke-width="1.2" transform="rotate(-30 1245.1 701.5)"/>
<polygon points="1271.6,664.9 1278.3,658.3 1288.3,656.6 1293.3,659.9 1299.9,678.3 1299.9,756.5 1282.4,756.5 1281.6,678.3" fill="#d3100e" stroke="#111" stroke-width="1.2" stroke-linejoin="round"/>
<polygon points="1280.0,793.3 1300.0,793.3 1300.0,773.3 1280.0,773.3" fill="#d3100e" stroke="#111" stroke-width="1" stroke-linejoin="round"/>
<ellipse cx="1287.4" cy="694.9" rx="6.7" ry="10.0" fill="#b20c0a" stroke="#111" stroke-width="1.2" transform="rotate(-12 1287.4 694.9)"/>
<ellipse cx="1287.4" cy="721.6" rx="6.7" ry="10.0" fill="#b20c0a" stroke="#111" stroke-width="1.2" transform="rotate(-12 1287.4 721.6)"/>
<ellipse cx="1287.4" cy="744.9" rx="6.7" ry="10.0" fill="#b20c0a" stroke="#111" stroke-width="1.2" transform="rotate(-12 1287.4 744.9)"/>
<polygon points="1281.6,668.3 1289.9,661.6 1368.2,701.6 1371.6,711.6 1366.6,724.9 1354.9,723.2 1281.6,681.6" fill="#a9a9a9" stroke="#111" stroke-width="1.5" stroke-linejoin="round"/>
<ellipse cx="1316.6" cy="699.1" rx="11.7" ry="13.0" fill="#a9a9a9" stroke="#111" stroke-width="1.5" transform="rotate(-20 1316.6 699.1)"/>
<ellipse cx="1317.4" cy="699.9" rx="7.5" ry="8.7" fill="#9a9a9a" stroke="#111" stroke-width="1.0" transform="rotate(-20 1317.4 699.9)"/>
<ellipse cx="1362.4" cy="713.2" rx="8.0" ry="10.8" fill="#a9a9a9" stroke="#111" stroke-width="1.5" transform="rotate(-20 1362.4 713.2)"/>
<polygon points="1299.9,724.9 1316.6,714.9 1333.2,718.2 1371.6,716.6 1374.9,728.2 1366.6,738.2 1341.6,748.2 1319.9,756.5 1299.9,756.5" fill="#6c6c6c" stroke="#111" stroke-width="1.5" stroke-linejoin="round"/>
<ellipse cx="1346.6" cy="734.9" rx="8.3" ry="10.3" fill="#5a5a5a" stroke="#111" stroke-width="1.5" transform="rotate(-20 1346.6 734.9)"/>
<ellipse cx="1368.2" cy="728.2" rx="2.5" ry="3.7" fill="#5a5a5a" stroke="#111" stroke-width="1"/>
<polygon points="1168.3,711.7 1180.0,703.3 1196.7,701.7 1210.0,711.7 1211.7,836.7 1203.3,846.7 1195.0,847.3 1190.7,843.3 1190.7,806.7 1168.3,803.3" fill="#d3100e" stroke="#111" stroke-width="1.2" stroke-linejoin="round"/>
<polygon points="1190.7,708.3 1210.0,711.7 1211.7,836.7 1203.3,846.7 1195.0,847.3 1190.7,843.3" fill="#c70e0c" stroke="#111" stroke-width="0.8" stroke-linejoin="round"/>
<ellipse cx="1201.0" cy="728.3" rx="7.7" ry="10.3" fill="#2f6fd0" stroke="#111" stroke-width="1" transform="rotate(-12 1201.0 728.3)"/>
<ellipse cx="1201.0" cy="755.0" rx="7.7" ry="10.3" fill="#b20c0a" stroke="#111" stroke-width="1" transform="rotate(-12 1201.0 755.0)"/>
<ellipse cx="1201.0" cy="781.0" rx="7.7" ry="10.3" fill="#b20c0a" stroke="#111" stroke-width="1" transform="rotate(-12 1201.0 781.0)"/>
<ellipse cx="1201.0" cy="806.0" rx="7.7" ry="10.3" fill="#b20c0a" stroke="#111" stroke-width="1" transform="rotate(-12 1201.0 806.0)"/>
<ellipse cx="1201.0" cy="833.0" rx="7.7" ry="10.3" fill="#bbb" stroke="#111" stroke-width="1" transform="rotate(-12 1201.0 833.0)"/>
<polygon points="1123.3,769.3 1143.3,759.3 1170.0,766.0 1190.0,786.0 1190.0,812.7 1126.7,826.0" fill="#373737" stroke="#e8e8e8" stroke-width="1" stroke-linejoin="round"/>
<polygon points="1123.3,808.3 1145.0,805.0 1188.3,826.6 1189.9,846.6 1179.9,859.9 1133.3,886.6 1123.3,883.3" fill="#373737" stroke="#e8e8e8" stroke-width="1.5" stroke-linejoin="round"/>
<polygon points="1145.0,830.0 1178.3,849.9 1145.0,856.6" fill="#373737" stroke="#e8e8e8" stroke-width="1.2" stroke-linejoin="round"/>
<ellipse cx="1134.1" cy="825.0" rx="8.3" ry="11.3" fill="#303030" stroke="#e8e8e8" stroke-width="1.8" transform="rotate(-12 1134.1 825.0)"/>
<ellipse cx="1134.1" cy="849.9" rx="8.3" ry="11.3" fill="#303030" stroke="#e8e8e8" stroke-width="1.8" transform="rotate(-12 1134.1 849.9)"/>
<ellipse cx="1134.1" cy="874.9" rx="8.3" ry="11.3" fill="#2f6fd0" stroke="#e8e8e8" stroke-width="1.8" transform="rotate(-12 1134.1 874.9)"/>
<ellipse cx="1134.1" cy="874.9" rx="4.7" ry="6.7" fill="#1f4fa8" transform="rotate(-12 1134.1 874.9)"/>
<ellipse cx="1156.6" cy="861.6" rx="8.3" ry="11.3" fill="#303030" stroke="#e8e8e8" stroke-width="1.8" transform="rotate(-12 1156.6 861.6)"/>
<ellipse cx="1179.1" cy="848.3" rx="8.3" ry="11.3" fill="#2f6fd0" stroke="#e8e8e8" stroke-width="1.8" transform="rotate(-12 1179.1 848.3)"/>
<ellipse cx="1179.1" cy="848.3" rx="4.7" ry="6.7" fill="#1f4fa8" transform="rotate(-12 1179.1 848.3)"/>
<ellipse cx="1133.3" cy="819.3" rx="8.0" ry="10.7" fill="#303030" stroke="#e8e8e8" stroke-width="1.2" transform="rotate(-12 1133.3 819.3)"/>
<polygon points="1088.3,776.0 1100.0,764.3 1116.7,762.7 1125.0,772.7 1126.7,899.3 1103.3,899.3 1090.0,892.7" fill="#d3100e" stroke="#111" stroke-width="1" stroke-linejoin="round"/>
<polygon points="1100.0,773.3 1106.7,766.7 1115.0,765.0 1123.3,770.0 1123.3,896.6 1106.7,903.2 1100.0,899.9" fill="#c80e0c" stroke="#111" stroke-width="1.2" stroke-linejoin="round"/>
<ellipse cx="1111.7" cy="810.0" rx="7.5" ry="11.3" fill="#b20c0a" stroke="#111" stroke-width="1.5" transform="rotate(-12 1111.7 810.0)"/>
<ellipse cx="1111.7" cy="835.0" rx="7.5" ry="11.3" fill="#b20c0a" stroke="#111" stroke-width="1.5" transform="rotate(-12 1111.7 835.0)"/>
<ellipse cx="1111.7" cy="859.9" rx="7.5" ry="11.3" fill="#b20c0a" stroke="#111" stroke-width="1.5" transform="rotate(-12 1111.7 859.9)"/>
<ellipse cx="1113.3" cy="806.0" rx="7.3" ry="10.0" fill="#b20c0a" stroke="#111" stroke-width="1" transform="rotate(-12 1113.3 806.0)"/>
<polygon points="1101.7,783.3 1110.0,770.0 1118.3,769.2 1189.9,810.0 1193.3,820.0 1186.6,838.3 1175.0,836.6 1103.3,803.3" fill="#a9a9a9" stroke="#111" stroke-width="1.5" stroke-linejoin="round"/>
<ellipse cx="1136.6" cy="808.3" rx="11.3" ry="13.3" fill="#a9a9a9" stroke="#111" stroke-width="1.5" transform="rotate(-20 1136.6 808.3)"/>
<ellipse cx="1137.5" cy="809.1" rx="7.5" ry="9.2" fill="#9a9a9a" stroke="#111" stroke-width="1.0" transform="rotate(-20 1137.5 809.1)"/>
<ellipse cx="1183.3" cy="825.0" rx="9.2" ry="12.5" fill="#a9a9a9" stroke="#111" stroke-width="1.5" transform="rotate(-20 1183.3 825.0)"/>
<polyline points="1106.7,791.6 1186.6,833.3" fill="none" stroke="#111" stroke-width="1" stroke-linecap="round" stroke-linejoin="round"/>
<polygon points="1103.3,886.6 1113.3,878.3 1125.0,881.6 1143.3,891.6 1150.0,898.2 1186.6,919.1 1189.9,926.6 1184.9,936.5 1148.3,915.7 1138.3,914.1 1125.0,909.9 1106.7,901.6" fill="#d3100e" stroke="#111" stroke-width="1.5" stroke-linejoin="round"/>
<ellipse cx="1115.8" cy="891.6" rx="5.0" ry="10.3" fill="#c40e0c" stroke="#111" stroke-width="1.2" transform="rotate(-30 1115.8 891.6)"/>
<ellipse cx="1134.1" cy="900.7" rx="5.0" ry="10.3" fill="#c40e0c" stroke="#111" stroke-width="1.2" transform="rotate(-30 1134.1 900.7)"/>
<polygon points="1278.2,778.3 1284.9,770.0 1299.9,775.0 1316.5,781.7 1323.2,788.3 1359.8,808.3 1359.8,826.6 1323.2,805.8 1313.2,804.1 1296.5,796.6 1279.9,793.3" fill="#d3100e" stroke="#111" stroke-width="1.5" stroke-linejoin="round"/>
<ellipse cx="1287.4" cy="782.5" rx="5.0" ry="10.3" fill="#c40e0c" stroke="#111" stroke-width="1.2" transform="rotate(-30 1287.4 782.5)"/>
<ellipse cx="1309.0" cy="790.8" rx="5.0" ry="10.3" fill="#c40e0c" stroke="#111" stroke-width="1.2" transform="rotate(-30 1309.0 790.8)"/>
<g fill="#000">
<path d="M1456.2,50.8 L1456.2,84.1 L1449.0,84.1 L1449.0,61.6 L1443.8,61.6 L1443.8,56.6 C1448.0,56.4 1450.5,54 1450.8,50.8 Z"/>
<path d="M1486.5,50.8 L1486.5,84.1 L1479.3,84.1 L1479.3,61.6 L1474.1,61.6 L1474.1,56.6 C1478.3,56.4 1480.8,54 1481.1,50.8 Z"/>
<rect x="1463.1" y="61.4" width="7.1" height="6" /><rect x="1463.1" y="78.1" width="7.1" height="6" />
</g>
<rect x="1163" y="45.5" width="226" height="44" rx="22" fill="#d81010" stroke="#111" stroke-width="1.6"/>
<circle cx="1184.2" cy="67.6" r="17" fill="none" stroke="#111" stroke-width="1.2"/>
<circle cx="1184.2" cy="67.6" r="14" fill="#fff" stroke="#111" stroke-width="1.2"/>
<circle cx="1229.9" cy="67.6" r="17" fill="none" stroke="#111" stroke-width="1.2"/>
<circle cx="1229.9" cy="67.6" r="14" fill="#fff" stroke="#111" stroke-width="1.2"/>
<circle cx="1275.3" cy="67.6" r="17" fill="none" stroke="#111" stroke-width="1.2"/>
<circle cx="1275.3" cy="67.6" r="14" fill="#fff" stroke="#111" stroke-width="1.2"/>
<circle cx="1320.8" cy="67.6" r="17" fill="none" stroke="#111" stroke-width="1.2"/>
<circle cx="1320.8" cy="67.6" r="14" fill="#fff" stroke="#111" stroke-width="1.2"/>
<circle cx="1366.4" cy="67.6" r="17" fill="none" stroke="#111" stroke-width="1.2"/>
<circle cx="1366.4" cy="67.6" r="14" fill="#fff" stroke="#111" stroke-width="1.2"/>
<polygon points="208.5,65 223.7,57.5 229.7,66 229.5,70.5 215.4,76.5 211,77.5" fill="#e01010" stroke="#500" stroke-width="0.5"/>
<ellipse cx="211" cy="71" rx="4" ry="7" fill="#e01010" stroke="#300" stroke-width="0.7" transform="rotate(-22 211 71)"/>
<line x1="224" y1="58" x2="228.5" y2="67" stroke="#300" stroke-width="0.7"/>
<circle cx="201.2" cy="74.8" r="7.2" fill="#e01010"/>
<polygon points="836.7,101.1 840.9,96 871.7,84.7 875.8,86.7 876.9,93.9 847,107.3 838.8,109.4" fill="#111" stroke="#ddd" stroke-width="0.6"/>
<line x1="852" y1="90" x2="857" y2="102" stroke="#ddd" stroke-width="0.8"/>
<polygon points="908.4,92.9 984.9,57.5 1002.4,69.2 1002.4,76.4 925.2,111 908.4,105.2" fill="#d81010" stroke="#300" stroke-width="0.6"/>
<ellipse cx="926.3" cy="102.8" rx="6" ry="7" fill="none" stroke="#400" stroke-width="0.9" transform="rotate(25 926.3 102.8)"/>
<ellipse cx="943.7" cy="96" rx="6" ry="7" fill="none" stroke="#400" stroke-width="0.9" transform="rotate(25 943.7 96)"/>
<ellipse cx="960.2" cy="88.8" rx="6" ry="7" fill="none" stroke="#400" stroke-width="0.9" transform="rotate(25 960.2 88.8)"/>
<ellipse cx="976.7" cy="81.6" rx="6" ry="7" fill="none" stroke="#400" stroke-width="0.9" transform="rotate(25 976.7 81.6)"/>
<ellipse cx="994.2" cy="74.4" rx="6" ry="7" fill="none" stroke="#400" stroke-width="0.9" transform="rotate(25 994.2 74.4)"/>
<polyline points="910,96 986,60 1001,70" fill="none" stroke="#a00" stroke-width="0.6"/>
<polygon points="1043.5,102.2 1046.6,97 1063.1,90.8 1096,78.5 1100.1,81.6 1101.2,89.8 1067.2,105.2 1048.7,109.4" fill="#2f6fd0" stroke="#0a2a66" stroke-width="0.6"/>
<line x1="1060" y1="93" x2="1065" y2="104" stroke="#0a2a66" stroke-width="0.8"/>
<g fill="none" stroke="#000" stroke-linecap="butt">
<path d="M965.8,386.6 A17.4,34.7 0 0 0 965.8,456.0" stroke-width="3"/>
<path d="M965.8,456.0 A17.4,34.7 0 0 0 982.3,432.3" stroke-width="3"/>
<path d="M929.8,421.3 A36,17.4 0 0 1 1001.8,421.3" stroke-width="3"/>
<path d="M965.8,438.7 A36,17.4 0 0 1 929.8,421.3" stroke-width="3"/>
</g>
<circle cx="950.3" cy="405.6" r="3.2" fill="#fff"/>
<circle cx="950.3" cy="437" r="3.2" fill="#fff"/>
<circle cx="981.3" cy="405.6" r="3.2" fill="#fff"/>
<g fill="none" stroke="#000" stroke-linecap="butt">
<path d="M965.8,386.6 A17.4,34.7 0 0 1 983.0,412.3" stroke-width="4.6"/>
<path d="M1001.8,421.3 A36,17.4 0 0 1 973.8,438.3" stroke-width="4.6"/>
</g>
<polygon points="974.3,411 991,411 983.1,431.5" fill="#000"/>
<polygon points="972.5,428.5 972.5,446.5 955.5,438.6" fill="#000"/>
<polygon points="1148.2,293.4 1150.7,287.2 1159.4,282.3 1166.8,283.5 1195.4,300.9 1201.6,305.8 1197.8,320.7 1190.4,319.5 1158.1,303.4 1149.4,300.9" fill="#3b77d0" stroke="#111" stroke-width="0.9" stroke-linejoin="round"/>
<polyline points="1170.5,293.4 1187.9,302.1" fill="none" stroke="#0d2f6e" stroke-width="1.2" stroke-linecap="round" stroke-linejoin="round"/>
<polygon points="1173.0,408.8 1180.5,401.4 1190.4,403.9 1194.1,423.7 1185.4,427.5 1174.3,421.3" fill="#3a3a3a" stroke="#ccc" stroke-width="0.8" stroke-linejoin="round"/>
<path d="M1192.9,433 L1192.9,319.5 C1193,305 1203,302 1210,303.5 L1233,315 C1236,317 1237,319 1237.2,322 L1237.2,431 C1237,445 1228,450 1220,447 L1200,438 C1195,436 1193,435 1192.9,433 Z" fill="#d41010" stroke="#111" stroke-width="1"/>
<path d="M1215.5,322 C1216,316 1222,313 1228,315.5 L1233,318 C1236,320 1237.2,322 1237.2,325 L1237.2,431 C1237,445 1228,450 1220,447 C1216,445 1215.5,442 1215.5,438 Z" fill="#c40e0e" stroke="#111" stroke-width="0.8"/>
<line x1="1238.5" y1="320" x2="1238.5" y2="431" stroke="#222" stroke-width="1.8"/>
<ellipse cx="1226" cy="330.7" rx="8.2" ry="10.5" fill="#3b77d0" stroke="#111" stroke-width="1" transform="rotate(15 1226 330.7)"/>
<ellipse cx="1226" cy="356.7" rx="8.2" ry="10.5" fill="#c40e0e" stroke="#111" stroke-width="1" transform="rotate(15 1226 356.7)"/>
<ellipse cx="1226" cy="382.8" rx="8.2" ry="10.5" fill="#c40e0e" stroke="#111" stroke-width="1" transform="rotate(15 1226 382.8)"/>
<ellipse cx="1226" cy="408.8" rx="8.2" ry="10.5" fill="#c40e0e" stroke="#111" stroke-width="1" transform="rotate(15 1226 408.8)"/>
<ellipse cx="1226" cy="434.9" rx="8.2" ry="10.5" fill="#c8c8c8" stroke="#111" stroke-width="1" transform="rotate(15 1226 434.9)"/>
<line x1="1197.5" y1="468" x2="1197.5" y2="688" stroke="#fff" stroke-width="5"/>
<line x1="1197.5" y1="468" x2="1197.5" y2="690" stroke="#000" stroke-width="2.4"/>
<polygon points="1187.3,680.5 1207.7,680.5 1197.3,708.5" fill="#000" stroke="#fff" stroke-width="1.2"/>
</svg>
</body></html>
